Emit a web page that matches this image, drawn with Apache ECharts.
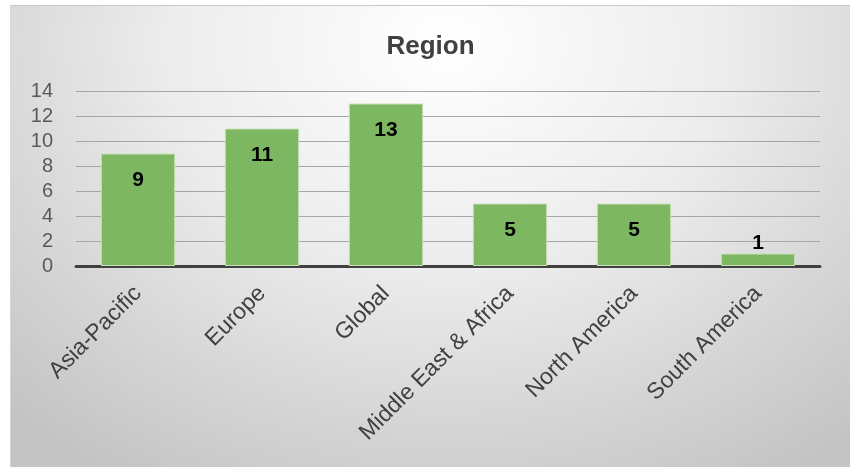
<!DOCTYPE html>
<html>
<head>
<meta charset="utf-8">
<script src="https://cdn.jsdelivr.net/npm/echarts@6/dist/echarts.min.js"></script>
<style>
  html, body { margin: 0; padding: 0; background: #ffffff; }
  #chart {
    position: absolute; left: 10px; top: 5px; width: 840px; height: 462px;
    background: radial-gradient(ellipse 75% 110% at 52% 8%, #ffffff 0%, #ececec 45%, #d2d2d2 80%, #c4c4c4 100%);
    border-left: 1px solid #d8d8d8; border-top: 1px solid #c8c8c8; box-sizing: border-box;
  }
</style>
</head>
<body>
<div id="chart"></div>
<script>
// categories and counts
var regions = ['Asia-Pacific', 'Europe', 'Global', 'Middle East & Africa', 'North America', 'South America'];
var counts = [9, 11, 13, 5, 5, 1];
var yTicks = [0, 2, 4, 6, 8, 10, 12, 14];

var chart = echarts.init(document.getElementById('chart'));

// label sits inside the bar top, small bars get it above
var barData = counts.map(function (v) {
    if (v < 2) {
        return { value: v, label: { position: 'top', distance: 0 } };
    }
    return v;
});

chart.setOption({
    backgroundColor: 'transparent',
    title: {
        text: 'Region',
        left: 'center',
        top: 23,
        textStyle: { fontFamily: 'Liberation Sans', fontSize: 26, fontWeight: 'bold', color: '#404040' }
    },
    grid: {
        left: 65,
        right: 30,
        top: 85,
        bottom: 201
    },
    xAxis: {
        type: 'category',
        data: regions,
        axisLine: { lineStyle: { color: '#404040', width: 3 } },
        axisTick: { show: false },
        axisLabel: {
            rotate: 45,
            margin: 24,
            interval: 0,
            fontFamily: 'Liberation Sans',
            fontSize: 23,
            color: '#404040'
        }
    },
    yAxis: {
        type: 'value',
        min: yTicks[0],
        max: yTicks[yTicks.length - 1],
        interval: 2,
        axisLine: { show: false },
        axisTick: { show: false },
        axisLabel: { margin: 23, fontFamily: 'Liberation Sans', fontSize: 20, color: '#595959' },
        splitLine: { lineStyle: { color: '#a6a6a6', width: 1 } }
    },
    series: [{
        type: 'bar',
        data: barData,
        barWidth: '60%',
        itemStyle: { color: '#7db761', borderColor: '#c9e2b8', borderWidth: 1 },
        label: {
            show: true,
            position: 'insideTop',
            distance: 16,
            fontFamily: 'Liberation Sans',
            fontSize: 21,
            fontWeight: 'bold',
            color: '#000000'
        }
    }]
});
</script>
</body>
</html>
